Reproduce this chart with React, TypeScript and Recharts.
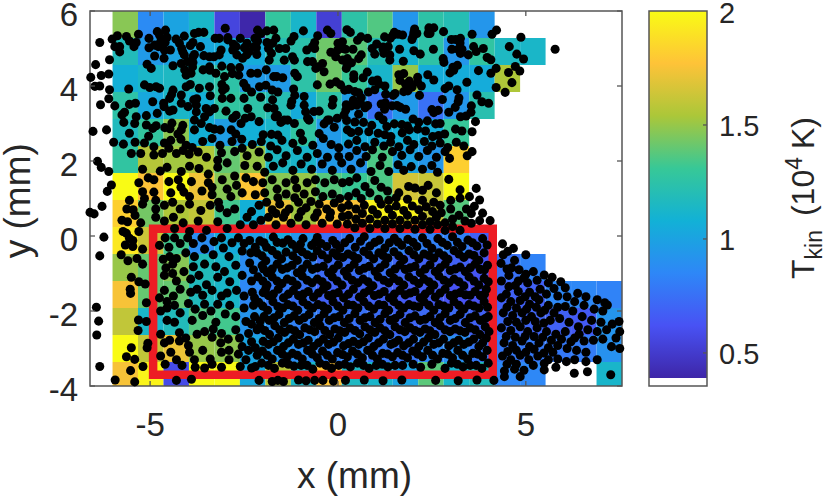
import React from 'react';
import { ScatterChart, Scatter, XAxis, YAxis, ZAxis, ReferenceArea } from 'recharts';

const FONT = '"Liberation Sans", Arial, sans-serif';
const TEXT = '#262626';
const FRAME = '#555555';

const xTicks = [-5, 0, 5];
const yTicks = [-4, -2, 0, 2, 4, 6];
const barTicks = [0.5, 1, 1.5, 2];

const colEdges = [-6, -5.322, -4.644, -3.966, -3.288, -2.61, -1.932, -1.254, -0.576, 0.102, 0.78, 1.458, 2.136, 2.814, 3.492, 4.17, 4.848, 5.526, 6.204, 6.882, 7.56];
const rowEdges = [6, 5.28, 4.56, 3.84, 3.12, 2.4, 1.68, 0.96, 0.24, -0.48, -1.2, -1.92, -2.64, -3.36, -4];

const _ = null;
const tempRows = [
  [1.47, 0.87, 1.0, 1.13, 0.55, 0.39, 1.28, 1.12, 0.52, 1.25, 1.36, 0.93, 1.25, 1.2, 0.93, _, _, _, _, _],
  [1.18, 0.95, 1.0, 1.03, 1.05, 1.05, 1.2, 1.23, 1.42, 1.38, 1.2, 1.1, 1.25, 0.93, 1.27, 1.15, 1.13, _, _, _],
  [1.07, 1.13, 1.15, 1.2, 1.25, 0.95, 0.95, 1.25, 1.42, 1.3, 1.12, 1.5, 1.05, 1.05, 1.05, 1.55, _, _, _, _],
  [1.25, 1.03, 1.13, 1.07, 1.27, 1.25, 1.2, 1.05, 1.25, 0.97, 0.75, 0.95, 0.75, 0.93, 1.22, _, _, _, _, _],
  [1.17, 1.28, 1.48, 1.07, 0.97, 1.07, 1.12, 1.27, 0.95, 1.04, 1.05, 1.07, 1.05, 1.3, _, _, _, _, _, _],
  [1.27, 1.57, 1.52, 1.55, 1.4, 1.5, 1.15, 1.12, 0.95, 0.92, 1.35, 1.0, 0.93, 1.82, _, _, _, _, _, _],
  [2.0, 1.77, 2.0, 1.73, 1.47, 1.78, 1.47, 1.5, 1.37, 1.31, 1.35, 1.65, 1.62, 2.0, _, _, _, _, _, _],
  [1.82, 1.43, 1.55, 1.6, 1.33, 1.07, 1.72, 1.52, 1.78, 1.76, 1.97, 1.97, 1.62, 1.37, _, _, _, _, _, _],
  [1.92, 1.63, 1.33, 0.88, 1.05, 0.97, 1.03, 0.93, 0.75, 0.8, 0.82, 0.82, 0.82, 0.82, 0.68, _, _, _, _, _],
  [1.5, 1.4, 1.47, 1.18, 1.13, 0.88, 0.88, 0.82, 0.72, 0.74, 0.75, 0.7, 0.68, 0.68, 0.63, 0.75, 0.83, _, _, _],
  [1.75, 1.4, 1.4, 1.17, 1.13, 0.85, 0.78, 0.75, 0.68, 0.68, 0.68, 0.65, 0.65, 0.62, 0.62, 0.68, 0.68, 0.85, 0.85, 0.83],
  [1.6, 1.13, 1.18, 1.37, 1.33, 0.92, 0.88, 0.82, 0.78, 0.75, 0.73, 0.7, 0.72, 0.72, 0.68, 0.72, 0.7, 0.68, 0.65, 0.92],
  [2.0, 1.6, 1.72, 1.5, 1.48, 1.0, 0.93, 0.88, 0.83, 0.83, 0.78, 0.77, 0.85, 0.88, 0.78, 0.78, 0.78, 0.78, 0.8, 0.9],
  [1.75, 1.97, 0.58, 2.0, 2.0, 1.03, 1.58, 1.13, 1.77, 1.15, 1.12, 1.0, 1.38, 1.12, 1.18, 0.85, 0.85, _, _, 1.12],
];

const parulaStops = ['#3e26a8', '#4852f4', '#2e87f7', '#12b1d6', '#37c897', '#abc739', '#fec338', '#f9fb15'];
const tempMin = 0.385;
const tempMax = 2;

// dots, as flat x,y lists
const dotsOuter = [
  -6.34,5.16, -6.45,4.57, -6.08,4.7, -6.58,4.23, -6.3,4.28, -6.1,4.32, -6.47,3.99, -6.34,4.0, -6.08,3.9, -6.1,3.66, -6.32,3.5, -6.52,2.79, -6.16,2.83,
  -6.4,1.99, -6.3,1.83, -6.1,1.72, -6.03,1.36, -6.14,1.19, -6.28,0.79, -6.6,0.63, -6.49,0.59, -6.23,-0.03, -6.34,-0.53, -6.43,-1.9, -6.37,-2.27, -6.42,-2.64, -6.34,-3.48, -5.93,-3.84, -5.41,-3.89,
  4.87,5.3, 5.78,4.98, 4.22,5.49, 4.1,5.38, 4.56,5.05, 4.76,4.85, 4.94,4.72, 3.97,4.76, 4.07,4.7, 3.61,5.05, 3.87,5.0, 3.68,4.92, 4.21,4.47, 4.07,4.34, 4.72,4.52, 4.84,4.4, 4.54,4.36, 4.63,4.09, 4.21,3.96, 4.45,3.83, 3.74,4.41, 3.43,4.1, 3.7,3.76, 3.83,3.58, 4.01,3.54, 3.55,3.47, 3.54,3.3, 3.41,3.2, 3.66,3.05, 3.57,2.78,
  3.68,1.27, 3.5,1.05, 3.77,0.96, 3.63,0.79, 3.85,0.61, 3.77,0.41, 4.05,0.41, 3.57,2.25, 3.44,2.14, 2.97,2.07, 2.95,1.51, 3.25,1.23, 3.25,1.01, 4.38,-0.21, 4.52,-0.41, 4.67,-0.33, 5.0,-0.5,
];
const dotsTopLeft = [
  -5.87,5.34, -6.01,5.25, -5.63,5.32, -5.81,5.05, -5.55,5.2, -5.43,5.05, -5.31,5.38, -5.37,5.16, -5.03,5.27, -5.03,5.02, -4.81,5.45, -4.75,5.36, -4.59,5.49, -4.55,5.3, -4.88,5.09, -4.78,5.05, -4.72,5.18, -4.6,5.16, -4.31,5.25, -4.09,5.33, -3.82,5.4, -3.71,5.43, -3.57,5.43, -3.86,5.16, -3.93,5.08, -3.66,5.05, -4.22,5.14, -4.16,5.0, -3.27,5.27, -3.16,5.27, -2.93,5.29, -3.0,5.54, -2.6,5.27, -2.93,5.23, -2.78,5.11, -2.71,5.05, -2.14,5.49, -2.05,5.4, -2.21,5.27, -2.14,5.2, -1.89,5.47, -1.71,5.49, -1.65,5.27, -1.17,5.32, -1.25,5.2, -0.92,5.47, -0.54,5.34, -0.28,5.49, -0.19,5.4, -0.62,5.16, -0.68,5.05, 0.0,5.14, 0.12,5.18, 0.07,5.05, -1.89,5.16, -1.74,5.14, -2.42,5.14, -2.49,5.02, -2.23,5.05,
  -5.81,4.91, -5.94,5.05, -4.88,4.8, -4.62,4.96, -4.46,4.96, -4.63,4.74, -4.13,4.91, -4.09,4.83, -3.82,4.84, -3.86,4.78, -3.57,4.81, -3.42,4.78, -3.3,4.78, -3.11,4.96, -3.16,4.83, -2.8,4.96, -2.69,4.83, -2.54,4.74, -2.43,4.83, -2.36,4.92, -2.17,5.02, -2.16,4.84, -1.85,5.0, -1.83,4.69, -1.77,4.87, -1.56,5.0, -1.39,5.0, -1.21,4.78, -1.43,4.69, -1.16,4.69, -0.83,4.96, -0.81,4.65, -0.68,4.65, -0.62,5.0, -0.19,4.9, -0.01,4.96, -0.06,4.78, 0.12,5.0, 0.12,4.69, -0.41,4.6, -0.54,4.51,
  -5.08,4.58, -4.97,4.47, -4.39,4.54, -4.17,4.6, -4.01,4.65, -3.86,4.63, -3.87,4.51, -3.59,4.43, -3.42,4.51, -3.41,4.42, -3.09,4.53, -2.85,4.49, -2.62,4.49, -4.08,4.43, -4.04,4.29, -3.91,4.34, -3.25,4.34, -3.02,4.25, -2.81,4.33, -2.64,4.29, -2.32,4.34, -2.14,4.34, -1.91,4.43, -1.71,4.25, -1.63,4.25, -1.47,4.22, -1.15,4.34, -1.08,4.25, -0.59,4.47, -0.37,4.38, -0.05,4.11, 0.07,4.03,
  -5.57,3.92, -5.15,4.03, -5.01,3.96, -4.84,3.98, -4.75,3.94, -4.04,3.98, -3.93,4.04, -3.69,3.94, -3.42,3.98, -3.09,4.04, -3.0,3.94, -2.51,4.07, -2.44,3.96, -2.3,3.84, -2.09,3.98, -1.92,4.02, -1.75,3.89, -1.6,3.84, -1.18,3.92, -0.55,4.03, -0.21,4.05, -4.39,3.89, -4.43,3.77, -4.48,3.67, -4.17,3.76, -3.4,3.74, -3.08,3.67, -3.07,3.89, -2.85,3.67, -2.5,3.67, -2.06,3.7, -1.74,3.63, -1.23,3.59, -1.15,3.75, -0.9,3.72, -0.13,3.64, -3.76,3.66, -3.84,3.63,
  -5.94,3.47, -5.68,3.3, -5.75,3.23, -5.55,3.51, -5.39,3.54, -4.93,3.58, -4.64,3.54, -4.63,3.45, -4.17,3.54, -3.99,3.45, -3.77,3.49, -3.77,3.31, -3.51,3.4, -3.42,3.31, -3.55,3.18, -3.29,3.4, -2.98,3.33, -2.71,3.22, -2.4,3.4, -2.31,3.18, -1.87,3.42, -1.7,3.4, -1.61,3.22, -1.25,3.49, -0.9,3.49, -0.86,3.31, -0.64,3.32, -0.5,3.33, -0.15,3.49, 0.21,3.36, -4.39,3.36, -4.48,3.33, -5.37,3.18, -5.1,3.21, -4.81,3.27, -3.82,3.09, -2.8,3.14, -1.43,3.09, -1.67,3.18, -0.81,3.14, -0.28,3.09, -0.02,3.14, 0.16,3.23,
  -5.7,3.03, -5.41,3.0, -5.1,2.96, -4.84,2.94, -4.93,2.87, -4.61,2.89, -4.42,3.01, -4.47,2.86, -4.13,2.95, -4.17,2.83, -4.26,2.72, -3.64,3.0, -3.42,2.89, -3.29,2.85, -3.13,2.83, -2.58,3.0, -2.47,3.14, -2.1,3.05, -1.52,3.03, -1.34,3.09, -1.16,3.0, -1.0,2.74, -0.77,3.09, -0.5,2.73, -0.37,2.99, -0.23,3.09, -0.1,2.9, 0.25,2.83, -5.55,2.74, -3.82,2.83, -2.84,2.83, -2.72,2.72, -1.99,2.7, -1.77,2.71, -1.6,2.69, -5.04,2.66,
];
const dotsTopRight = [
  0.24,5.5, 0.33,5.43, 0.61,5.31, 0.79,5.27, 0.52,5.22, 0.91,5.0, 1.03,5.12, 1.24,5.31, 1.39,5.27, 1.46,5.35, 1.5,5.43, 1.6,5.38, 1.97,5.24, 2.0,5.32, 2.04,5.52, 2.02,5.43, 2.1,5.4, 2.4,5.4, 2.45,5.4, 2.42,5.55, 2.55,5.55, 2.81,5.45, 3.02,5.24, 3.13,5.24, 3.26,5.27, 3.25,5.15, 3.57,5.38, 1.2,5.04, 1.34,5.05, 1.72,5.36,
  0.2,4.98, 0.25,4.73, 0.4,4.98, 0.62,4.83, 1.2,4.98, 0.98,4.85, 1.22,4.87, 1.38,4.83, 1.64,4.98, 1.74,4.66, 2.02,4.94, 2.19,4.85, 2.54,4.98, 3.03,4.98, 3.2,4.98, 3.3,4.98, 3.26,4.87, 3.47,4.83, 2.8,4.73, 2.82,4.63, 3.06,4.5, 3.18,4.55, 1.38,4.69, 0.55,4.73, 0.36,4.62, 0.25,4.55,
  0.22,4.47, 0.42,4.2, 0.42,4.3, 0.67,4.22, 0.78,4.37, 0.92,4.13, 1.05,4.16, 1.25,4.0, 1.09,4.05, 1.62,4.3, 1.75,4.33, 1.65,4.15, 1.87,4.05, 1.8,4.05, 1.9,4.13, 2.12,4.23, 2.12,4.1, 2.22,4.0, 2.39,4.3, 2.55,4.16, 2.95,4.0, 2.98,4.35, 3.08,4.42,
  0.18,3.89, 0.29,3.91, 0.45,3.85, 0.55,3.82, 0.62,3.69, 0.81,3.84, 0.98,3.9, 1.27,3.78, 1.47,3.75, 1.75,3.85, 1.97,3.97, 1.86,3.87, 1.52,3.8, 2.17,3.75, 2.78,3.64, 3.17,3.9, 3.22,3.68, 2.85,3.93, 0.41,3.62, 0.22,3.5, 0.5,3.49,
  0.36,3.47, 0.55,3.25, 0.72,3.42, 0.79,3.48, 0.6,3.55, 1.15,3.52, 1.26,3.55, 1.44,3.47, 1.57,3.48, 1.66,3.43, 1.8,3.38, 2.67,3.35, 2.55,3.29, 2.5,3.37, 3.12,3.43, 3.2,3.58, 2.95,3.3, 1.24,3.38, 1.09,3.2, 1.2,3.1, 2.0,3.12, 2.15,3.03, 2.38,3.07, 2.6,2.99, 2.72,3.0, 3.26,3.18,
  0.23,3.08, 0.45,3.04, 0.68,3.03, 0.9,2.95, 1.3,2.92, 1.5,2.99, 1.7,2.97, 1.85,2.93, 0.55,2.79, 0.35,2.76, 0.82,2.78, 1.07,2.74, 1.25,2.7, 1.41,2.65, 1.71,2.75, 1.9,2.83, 2.12,2.85, 2.33,2.8, 2.52,2.65, 2.68,2.68, 2.84,2.72, 3.13,2.85, 3.3,2.8,
];
const dotsMidLeft = [
  -5.97,2.5, -5.71,2.45, -5.4,2.5, -5.15,2.48, -4.9,2.38, -4.62,2.48, -4.45,2.55, -4.18,2.58, -4.04,2.42, -3.88,2.36, -3.6,2.52, -3.35,2.6, -3.14,2.42, -2.82,2.52, -2.56,2.58, -2.28,2.44, -2.04,2.52, -1.79,2.4, -1.49,2.55, -1.2,2.47, -0.94,2.55, -0.67,2.42, -0.39,2.6, -0.18,2.44,
  -5.5,2.2, -5.25,2.2, -4.9,2.16, -4.67,2.2, -4.5,2.34, -4.3,2.2, -4.12,2.28, -3.96,2.18, -3.72,2.24, -3.5,2.1, -3.2,2.02, -3.1,2.22, -2.75,2.25, -2.55,2.34, -2.42,2.14, -2.1,2.24, -1.85,2.1, -1.62,2.3, -1.38,2.14, -1.08,2.28, -0.82,2.1, -0.55,2.2, -0.28,2.1, 0.02,2.35, 0.02,2.12,
  -5.2,1.78, -4.73,1.73, -4.55,1.83, -4.17,1.72, -3.95,1.86, -3.7,1.8, -3.45,1.65, -3.2,1.83, -2.95,1.95, -2.75,1.6, -2.48,1.88, -2.15,1.86, -1.95,1.7, -1.72,1.86, -1.47,1.95, -1.2,1.75, -0.98,1.92, -0.7,1.78, -0.42,1.92, -0.15,1.75, 0.1,1.95,
  -5.3,1.42, -5.05,1.55, -4.9,1.5, -4.5,1.45, -4.25,1.5, -4.18,1.3, -3.9,1.45, -3.62,1.2, -3.45,1.42, -3.35,1.3, -3.08,1.5, -2.95,1.25, -2.7,1.35, -2.45,1.55, -2.25,1.45, -2.0,1.42, -1.75,1.5, -1.62,1.25, -1.38,1.42, -1.15,1.5, -1.1,1.28, -0.82,1.42, -0.6,1.5, -0.35,1.42, -0.1,1.5, 0.12,1.42,
  -5.2,1.18, -5.15,1.0, -4.9,1.17, -4.45,1.15, -4.1,1.17, -3.95,1.05, -3.35,1.1, -3.18,0.9, -2.85,1.05, -2.55,1.15, -2.2,1.1, -1.95,1.15, -1.6,1.02, -1.38,1.12, -1.15,1.02, -0.9,1.12, -0.6,1.18, -0.4,1.05, -0.15,1.12, 0.05,1.0,
  -5.55,0.95, -5.62,0.72, -5.45,0.7, -5.2,0.85, -4.85,0.95, -4.85,0.72, -4.62,0.82, -4.4,0.9, -4.2,0.72, -3.95,0.85, -3.65,0.68, -3.4,0.82, -3.15,0.75, -2.95,0.62, -2.75,0.72, -2.42,0.5, -2.3,0.65, -2.1,0.82, -1.9,0.9, -1.75,0.7, -1.55,0.85, -1.3,0.72, -1.05,0.9, -0.85,0.75, -0.72,0.92, -0.5,0.85, -0.3,0.72, -0.1,0.88, 0.1,0.75,
  -5.72,0.12, -5.63,0.07, -5.55,-0.06, -5.66,-0.24, -5.46,-0.12, -5.46,-0.28, -5.77,-0.5, -5.75,0.42, -5.6,0.38, -5.4,0.55, -5.25,0.35, -5.3,0.12, -4.85,0.5, -4.62,0.4, -4.38,0.5, -4.12,0.35, -4.35,0.2, -3.95,0.12, -3.72,0.4, -3.5,0.15, -3.2,0.38, -2.95,0.2, -2.6,0.3, -2.25,0.3, -2.05,0.42, -1.85,0.5, -1.65,0.3, -1.45,0.5, -1.25,0.34, -1.05,0.5, -0.85,0.3, -0.62,0.5, -0.42,0.34, -0.22,0.5, -0.02,0.32, 0.12,0.52, -1.65,0.6, -1.4,0.62, -0.98,0.65, -0.55,0.62, -0.2,0.62,
];
const dotsMidRight = [
  0.28,2.45, 0.5,2.55, 0.72,2.38, 0.98,2.5, 1.22,2.4, 1.4,2.5, 1.62,2.38, 1.85,2.55, 2.02,2.44, 2.3,2.52, 2.5,2.4, 2.72,2.48, 2.92,2.36, 3.15,2.5, 3.35,2.4,
  0.3,2.12, 0.5,2.28, 0.75,2.12, 0.92,2.3, 1.18,2.1, 1.45,2.25, 1.7,2.15, 1.92,2.3, 2.15,2.12, 2.38,2.28, 2.62,2.1, 2.85,2.25,
  0.35,1.78, 0.6,1.95, 0.88,1.72, 1.12,1.88, 1.35,1.72, 1.6,1.9, 1.75,1.75, 1.95,1.85, 2.25,1.78, 2.5,1.88, 2.65,1.7,
  0.3,1.45, 0.5,1.55, 0.72,1.32, 0.98,1.48, 1.15,1.3, 1.32,1.2, 1.62,1.15, 1.88,1.32, 2.05,1.28, 2.25,1.22, 2.4,1.35, 2.62,1.15,
  0.28,1.05, 0.48,1.15, 0.62,1.0, 0.85,1.15, 1.08,0.98, 1.35,0.95, 1.55,1.02, 1.85,0.98, 1.98,0.8, 2.25,0.95, 2.55,0.9, 2.72,0.82, 3.0,0.95, 3.55,0.6, 3.42,0.72,
  0.28,0.82, 0.48,0.72, 0.7,0.82, 0.92,0.7, 1.15,0.85, 1.35,0.72, 1.55,0.8, 1.75,0.68, 2.15,0.7, 2.35,0.78, 2.52,0.65, 2.75,0.62, 3.0,0.72, 3.22,0.55, 3.38,0.4, 3.55,0.34,
  0.28,0.55, 0.48,0.45, 0.65,0.6, 0.85,0.45, 1.05,0.58, 1.25,0.42, 1.45,0.55, 1.65,0.42, 1.85,0.55, 2.05,0.42, 2.25,0.52, 2.45,0.38, 2.62,0.5, 2.85,0.35, 3.05,0.45,
  0.25,0.32, 0.45,0.22, 0.65,0.34, 0.85,0.2, 1.05,0.32, 1.25,0.2, 1.45,0.32, 1.65,0.2, 1.85,0.3, 2.05,0.18, 2.25,0.3, 2.45,0.18, 2.65,0.3, 2.85,0.15, 3.05,0.25, 3.25,0.15,
];
const dotsLowLeft = [
  -5.5,-1.1, -5.53,-1.42, -5.52,-1.53, -5.3,-1.22, -5.13,-1.28, -5.1,-1.78, -5.31,-2.24, -5.1,-2.28, -5.32,-2.52, -5.5,-2.98, -5.63,-3.22, -5.41,-3.29, -5.52,-3.59, -5.19,-3.48, -5.06,-2.86, -5.08,-2.98, -5.59,-0.66, -5.2,-0.35, -5.35,-0.6, -5.2,-0.75,
  -4.6,-0.05, -4.75,-0.25, -4.35,-0.05, -4.5,-0.3, -4.2,-0.2, -4.0,-0.05, -4.65,-0.62, -4.48,-0.55, -4.3,-0.6, -4.58,-0.85, -4.4,-0.75, -4.05,-0.45, -3.85,-0.2, -3.82,-0.55, -3.62,-0.05, -3.55,-0.35, -3.3,-0.15, -3.32,-0.5, -3.1,-0.05, -3.05,-0.32, -2.9,-0.55, -2.82,-0.18, -2.65,-0.05, -2.55,-0.4, -2.35,-0.12, -2.32,-0.45,
  -4.62,-1.05, -4.4,-1.0, -4.3,-1.2, -4.62,-1.45, -4.75,-1.65, -4.55,-1.75, -4.38,-1.6, -4.2,-1.42, -4.1,-0.95, -3.92,-1.15, -3.85,-0.82, -3.7,-1.05, -3.55,-0.75, -3.5,-1.3, -3.25,-0.82, -3.2,-1.1, -3.02,-0.95, -2.88,-1.22, -2.72,-0.78, -2.55,-1.05, -2.35,-0.72, -2.3,-1.2, -3.92,-1.5, -3.75,-1.42, -3.6,-1.58, -3.35,-1.45, -3.1,-1.6, -2.95,-1.52, -2.7,-1.45, -2.5,-1.6, -2.28,-1.5,
  -4.72,-2.0, -4.55,-1.92, -4.35,-1.85, -4.2,-2.05, -4.35,-2.3, -4.55,-2.25, -3.98,-1.8, -3.8,-1.95, -3.88,-2.25, -3.6,-2.12, -3.55,-1.82, -3.38,-2.0, -3.2,-1.82, -3.25,-2.3, -3.0,-2.08, -2.88,-1.85, -2.72,-2.15, -2.5,-1.92, -2.45,-2.28, -2.25,-1.85, -2.22,-2.15,
  -4.72,-2.62, -4.62,-2.85, -4.48,-2.78, -4.22,-2.8, -4.22,-2.58, -4.05,-2.72, -3.98,-2.92, -3.75,-2.62, -3.55,-2.55, -3.35,-2.7, -3.32,-2.48, -3.1,-2.6, -3.12,-2.85, -2.92,-2.75, -2.72,-2.5, -2.62,-2.72, -2.55,-2.95, -2.38,-2.6, -2.3,-2.82, -2.15,-2.5,
  -4.72,-3.2, -4.45,-3.1, -4.3,-3.3, -4.6,-3.42, -3.95,-3.1, -3.82,-3.3, -3.6,-3.05, -3.4,-3.28, -3.35,-3.42, -3.1,-3.1, -2.9,-3.3, -2.9,-3.05, -2.65,-3.15, -2.45,-3.3, -2.38,-3.05, -2.15,-3.18, -4.15,-3.45, -3.8,-3.5, -3.55,-3.52, -3.1,-3.5, -2.6,-3.48, -2.3,-3.52,
  -4.3,-3.85, -3.9,-3.82, -2.1,-3.85, -1.75,-3.88, -1.6,-3.85, -1.45,-3.88, -1.05,-3.84, -0.85,-3.86, -0.62,-3.85, -0.4,-3.85, -0.12,-3.87, 0.2,-3.85, 0.7,-3.84, 1.2,-3.86, 1.7,-3.84, 2.6,-3.85, 3.2,-3.86, 3.7,-3.84, 4.15,-3.85,
];
const dotsCore = [
  -2.08,-0.13, -1.9,-0.3, -1.72,-0.03, -1.47,-0.19, -1.33,-0.1, -1.1,-0.34, -0.93,-0.07, -0.7,-0.25, -0.55,-0.04, -0.3,-0.28, -0.14,-0.12, 0.05,-0.33, 0.31,-0.07, 0.46,-0.3, 0.7,-0.02, 0.85,-0.27, 1.1,-0.11, 1.25,-0.32, 1.5,-0.06, 1.7,-0.25, 1.86,-0.09, 2.1,-0.28, 2.25,-0.05, 2.5,-0.33, 2.66,-0.07, 2.91,-0.25, 3.05,-0.02, 3.3,-0.28, 3.46,-0.11, 3.7,-0.27, 3.85,-0.07,
  -2.15,-0.45, -1.92,-0.66, -1.75,-0.39, -1.5,-0.61, -1.38,-0.43, -1.08,-0.65, -0.95,-0.42, -0.67,-0.56, -0.55,-0.39, -0.27,-0.61, -0.13,-0.45, 0.13,-0.57, 0.27,-0.48, 0.53,-0.6, 0.69,-0.41, 0.95,-0.61, 1.09,-0.45, 1.33,-0.59, 1.49,-0.42, 1.75,-0.63, 1.89,-0.39, 2.15,-0.61, 2.29,-0.48, 2.55,-0.59, 2.69,-0.45, 2.93,-0.62, 3.09,-0.39, 3.35,-0.57, 3.49,-0.48, 3.75,-0.65, 3.89,-0.45,
  -2.02,-0.79, -1.88,-0.98, -1.62,-0.75, -1.48,-0.89, -1.22,-0.78, -1.08,-0.98, -0.82,-0.75, -0.68,-0.89, -0.39,-0.81, -0.25,-0.98, 0.01,-0.77, 0.17,-0.95, 0.43,-0.75, 0.57,-0.92, 0.83,-0.81, 0.99,-0.95, 1.25,-0.75, 1.39,-0.98, 1.65,-0.77, 1.79,-0.89, 2.05,-0.81, 2.19,-0.98, 2.45,-0.77, 2.59,-0.95, 2.85,-0.75, 2.99,-0.92, 3.25,-0.83, 3.39,-0.95, 3.65,-0.75, 3.79,-0.89, 3.98,-0.78,
  -2.13,-1.09, -1.89,-1.31, -1.75,-1.09, -1.49,-1.27, -1.35,-1.15, -1.09,-1.31, -0.95,-1.07, -0.69,-1.25, -0.55,-1.15, -0.29,-1.33, -0.15,-1.09, 0.11,-1.31, 0.25,-1.07, 0.53,-1.25, 0.67,-1.15, 0.93,-1.33, 1.07,-1.09, 1.35,-1.25, 1.49,-1.13, 1.75,-1.31, 1.89,-1.09, 2.15,-1.27, 2.29,-1.15, 2.55,-1.31, 2.69,-1.07, 2.95,-1.25, 3.09,-1.15, 3.35,-1.33, 3.49,-1.09, 3.75,-1.31, 3.89,-1.13,
  -1.99,-1.51, -1.85,-1.59, -1.59,-1.42, -1.45,-1.65, -1.19,-1.45, -1.05,-1.59, -0.79,-1.48, -0.65,-1.63, -0.39,-1.42, -0.25,-1.59, 0.01,-1.51, 0.15,-1.65, 0.41,-1.42, 0.57,-1.63, 0.83,-1.45, 0.97,-1.59, 1.23,-1.48, 1.37,-1.65, 1.65,-1.45, 1.79,-1.57, 2.05,-1.48, 2.19,-1.65, 2.45,-1.45, 2.59,-1.63, 2.85,-1.42, 2.99,-1.59, 3.25,-1.51, 3.39,-1.57, 3.65,-1.48, 3.79,-1.59, 3.95,-1.42,
  -2.11,-1.77, -1.87,-1.98, -1.73,-1.75, -1.47,-1.92, -1.33,-1.83, -1.07,-1.98, -0.93,-1.75, -0.67,-1.92, -0.53,-1.83, -0.27,-1.95, -0.13,-1.75, 0.13,-1.98, 0.27,-1.83, 0.53,-1.92, 0.69,-1.75, 0.95,-1.95, 1.09,-1.83, 1.35,-1.98, 1.49,-1.75, 1.75,-1.92, 1.89,-1.83, 2.15,-1.89, 2.29,-1.75, 2.55,-1.98, 2.69,-1.83, 2.95,-1.92, 3.09,-1.75, 3.35,-1.95, 3.49,-1.83, 3.75,-1.92, 3.89,-1.75,
  -1.97,-2.15, -1.83,-2.25, -1.57,-2.09, -1.43,-2.31, -1.17,-2.13, -1.03,-2.25, -0.77,-2.09, -0.63,-2.31, -0.37,-2.07, -0.23,-2.25, 0.03,-2.15, 0.17,-2.31, 0.45,-2.07, 0.59,-2.25, 0.85,-2.15, 0.99,-2.31, 1.25,-2.07, 1.39,-2.25, 1.65,-2.09, 1.79,-2.31, 2.05,-2.13, 2.19,-2.25, 2.45,-2.15, 2.59,-2.31, 2.85,-2.07, 2.99,-2.25, 3.25,-2.09, 3.39,-2.31, 3.65,-2.13, 3.79,-2.25, 4.0,-2.15,
  -2.08,-2.42, -1.82,-2.63, -1.68,-2.39, -1.42,-2.57, -1.28,-2.48, -1.02,-2.63, -0.88,-2.45, -0.62,-2.55, -0.48,-2.39, -0.22,-2.63, -0.08,-2.48, 0.18,-2.57, 0.32,-2.45, 0.58,-2.61, 0.72,-2.42, 0.98,-2.57, 1.12,-2.45, 1.38,-2.63, 1.52,-2.42, 1.78,-2.55, 1.92,-2.45, 2.18,-2.57, 2.32,-2.48, 2.58,-2.63, 2.72,-2.39, 2.98,-2.55, 3.12,-2.48, 3.38,-2.57, 3.52,-2.45, 3.78,-2.63, 3.92,-2.42,
  -1.99,-2.81, -1.85,-2.89, -1.59,-2.72, -1.45,-2.95, -1.19,-2.75, -1.05,-2.89, -0.79,-2.78, -0.65,-2.95, -0.39,-2.75, -0.25,-2.89, 0.01,-2.72, 0.15,-2.93, 0.41,-2.81, 0.55,-2.89, 0.81,-2.72, 0.95,-2.95, 1.21,-2.75, 1.41,-2.89, 1.61,-2.78, 1.75,-2.93, 2.01,-2.75, 2.15,-2.95, 2.41,-2.72, 2.55,-2.89, 2.81,-2.75, 2.95,-2.93, 3.21,-2.78, 3.35,-2.89, 3.61,-2.75, 3.75,-2.95, 3.95,-2.72,
  -2.01,-3.07, -1.75,-3.28, -1.61,-3.05, -1.35,-3.22, -1.21,-3.13, -0.95,-3.28, -0.81,-3.05, -0.55,-3.25, -0.41,-3.07, -0.15,-3.28, -0.01,-3.11, 0.25,-3.22, 0.39,-3.07, 0.65,-3.25, 0.79,-3.05, 1.05,-3.28, 1.19,-3.13, 1.45,-3.22, 1.59,-3.11, 1.85,-3.25, 1.99,-3.07, 2.25,-3.22, 2.39,-3.05, 2.65,-3.28, 2.79,-3.13, 3.05,-3.25, 3.19,-3.05, 3.45,-3.28, 3.59,-3.13, 3.85,-3.22, 3.97,-3.05,
  -2.03,-3.39, -1.69,-3.53, -1.48,-3.39, -1.17,-3.47, -0.98,-3.45, -0.67,-3.55, -0.48,-3.39, -0.17,-3.53, 0.02,-3.45, 0.33,-3.49, 0.52,-3.39, 0.83,-3.53, 1.02,-3.45, 1.33,-3.49, 1.52,-3.45, 2.85,-3.53, 3.02,-3.39, 3.33,-3.49, 3.52,-3.45, 3.83,-3.53, 4.0,-3.39,
];
const dotsCoreFill = [
  -2.5,-0.2, -2.2,-0.3, -1.97,-0.18, -1.62,-0.17, -1.22,-0.22, -1.0,-0.22, -0.6,-0.16, -0.45,-0.2, -0.05,-0.22, 0.18,-0.18, 0.6,-0.14, 0.98,-0.17, 1.37,-0.18, 1.6,-0.16, 2.0,-0.17, 2.37,-0.2, 2.78,-0.17, 3.18,-0.17, 3.58,-0.18, 3.97,-0.24,
  -2.02,-0.53, -1.62,-0.5, -1.2,-0.53, -0.82,-0.5, -0.42,-0.5, -0.02,-0.53, 0.4,-0.53, 0.82,-0.5, 1.2,-0.52, 1.62,-0.53, 2.02,-0.5, 2.42,-0.52, 2.82,-0.53, 3.22,-0.48, 3.62,-0.52,
  -2.25,-0.9, -1.98,-0.88, -1.75,-0.88, -1.35,-0.85, -0.95,-0.88, -0.55,-0.85, -0.12,-0.88, 0.3,-0.86, 0.7,-0.86, 1.12,-0.85, 1.52,-0.88, 1.92,-0.85, 2.32,-0.88, 2.72,-0.85, 3.12,-0.88, 3.52,-0.85, 3.9,-0.9,
  -2.0,-1.2, -1.62,-1.2, -1.22,-1.2, -0.82,-1.18, -0.42,-1.22, -0.02,-1.2, 0.38,-1.18, 0.8,-1.22, 1.22,-1.18, 1.62,-1.2, 2.02,-1.18, 2.42,-1.22, 2.82,-1.18, 3.22,-1.22, 3.62,-1.2, 4.0,-1.22,
  -2.22,-1.65, -1.92,-1.4, -1.72,-1.55, -1.32,-1.55, -0.92,-1.55, -0.52,-1.52, -0.12,-1.55, 0.28,-1.55, 0.7,-1.52, 1.1,-1.55, 1.5,-1.55, 1.92,-1.52, 2.32,-1.55, 2.72,-1.52, 3.12,-1.55, 3.52,-1.58, 3.9,-1.55,
  -2.0,-1.87, -1.6,-1.88, -1.2,-1.87, -0.8,-1.85, -0.4,-1.87, 0.0,-1.87, 0.4,-1.85, 0.82,-1.87, 1.22,-1.85, 1.62,-1.85, 2.02,-1.87, 2.42,-1.85, 2.82,-1.87, 3.22,-1.85, 3.62,-1.87, 3.98,-1.9,
  -2.3,-2.35, -2.07,-2.27, -1.7,-2.18, -1.3,-2.2, -0.9,-2.18, -0.5,-2.2, -0.1,-2.18, 0.3,-2.2, 0.72,-2.18, 1.12,-2.22, 1.52,-2.2, 1.92,-2.18, 2.32,-2.22, 2.72,-2.18, 3.12,-2.2, 3.52,-2.18, 3.92,-2.2,
  -1.95,-2.52, -1.55,-2.5, -1.15,-2.53, -0.75,-2.5, -0.35,-2.52, 0.05,-2.53, 0.45,-2.52, 0.85,-2.5, 1.25,-2.53, 1.65,-2.5, 2.05,-2.52, 2.45,-2.53, 2.85,-2.5, 3.25,-2.53, 3.65,-2.5, 4.02,-2.55,
  -2.2,-2.98, -1.72,-2.82, -1.32,-2.85, -0.92,-2.85, -0.52,-2.85, -0.12,-2.83, 0.28,-2.87, 0.68,-2.82, 1.08,-2.85, 1.5,-2.85, 1.88,-2.85, 2.28,-2.83, 2.68,-2.85, 3.08,-2.85, 3.48,-2.83, 3.85,-2.85,
  -1.88,-3.18, -1.48,-3.15, -1.08,-3.18, -0.68,-3.15, -0.28,-3.18, 0.12,-3.16, 0.52,-3.15, 0.92,-3.18, 1.32,-3.15, 1.72,-3.18, 2.12,-3.15, 2.52,-3.18, 2.92,-3.15, 3.32,-3.18, 3.72,-3.15,
  -2.2,-3.48, -1.85,-3.45, -1.32,-3.42, -0.82,-3.45, -0.32,-3.45, 0.18,-3.42, 0.68,-3.45, 1.18,-3.42, 3.18,-3.42, 3.68,-3.45, 2.0,-3.42, 2.2,-3.5, 2.5,-3.42, 1.72,-3.45,
];
const dotsTail = [
  4.34,-0.73, 4.62,-0.85, 4.82,-0.9, 5.0,-1.02, 5.2,-0.95, 5.49,-1.04, 5.7,-1.1, 5.93,-1.22, 5.6,-1.25, 5.75,-1.4, 6.05,-1.38, 6.38,-1.53, 6.6,-1.62, 6.9,-1.7, 7.1,-1.78, 7.17,-1.84, 7.48,-2.28,
  4.4,-0.5, 4.7,-0.65, 4.55,-1.05, 4.8,-1.2, 5.05,-1.25, 5.3,-1.18, 4.35,-1.2, 4.55,-1.35, 4.8,-1.48, 5.1,-1.5, 5.38,-1.42, 5.55,-1.55, 5.85,-1.6, 6.1,-1.62, 6.3,-1.75, 6.55,-1.85, 6.82,-1.95, 7.05,-2.0,
  4.35,-1.65, 4.6,-1.75, 4.85,-1.72, 5.1,-1.82, 5.35,-1.7, 5.6,-1.85, 5.85,-1.9, 6.05,-1.88, 6.25,-2.0, 6.5,-2.15, 6.75,-2.25, 7.0,-2.3, 7.3,-2.35, 7.5,-2.55,
  4.4,-2.05, 4.65,-2.12, 4.9,-2.05, 5.15,-2.15, 5.4,-2.05, 5.65,-2.25, 5.9,-2.2, 6.15,-2.3, 6.4,-2.42, 6.65,-2.5, 6.9,-2.55, 7.15,-2.5, 7.4,-2.72,
  4.35,-2.45, 4.6,-2.52, 4.85,-2.42, 5.05,-2.55, 5.3,-2.45, 5.55,-2.55, 5.8,-2.62, 6.05,-2.55, 6.3,-2.72, 6.55,-2.8, 6.8,-2.78, 7.05,-2.75, 7.28,-2.95, 7.5,-3.0,
  4.42,-2.85, 4.65,-2.92, 4.9,-2.8, 5.1,-2.95, 5.35,-2.85, 5.6,-2.98, 5.85,-2.92, 6.1,-3.0, 6.35,-3.05, 6.6,-3.1, 6.9,-3.3, 7.26,-3.7,
  4.38,-3.2, 4.6,-3.3, 4.85,-3.18, 5.08,-3.3, 5.32,-3.2, 5.49,-3.4, 5.6,-3.3, 5.85,-3.28, 6.08,-3.35, 6.3,-3.3, 6.6,-3.35,
  4.43,-3.6, 4.7,-3.55, 4.95,-3.58, 5.2,-3.45, 5.49,-3.57, 5.8,-3.5, 6.29,-3.66, 6.64,-3.62, 4.43,-3.75, 4.85,-3.75,
  4.5,-0.88, 4.95,-1.12, 4.48,-1.55, 4.72,-1.32, 4.98,-1.62, 5.25,-1.62, 4.5,-1.9, 4.75,-1.92, 5.02,-1.95, 5.28,-1.9, 5.5,-1.98, 5.75,-2.05, 4.52,-2.28, 4.75,-2.3, 5.0,-2.25, 5.25,-2.28, 5.48,-2.32, 4.48,-2.68, 4.72,-2.7, 4.98,-2.68, 5.22,-2.68, 5.45,-2.7, 5.68,-2.78, 5.95,-2.75, 6.2,-2.82, 6.42,-2.62, 4.52,-3.08, 4.75,-3.05, 5.0,-3.1, 5.22,-3.02, 5.48,-3.12, 5.72,-3.1, 4.5,-3.42, 4.75,-3.42,
];

const toPairs = (flat: number[]) => {
  const out: { x: number; y: number }[] = [];
  for (let i = 0; i < flat.length; i += 2) out.push({ x: flat[i], y: flat[i + 1] });
  return out;
};

const hexToRgb = (h: string) => [1, 3, 5].map(i => parseInt(h.slice(i, i + 2), 16));

const tempColor = (t: number) => {
  const pos = Math.min(1, Math.max(0, (t - tempMin) / (tempMax - tempMin))) * (parulaStops.length - 1);
  const i = Math.min(parulaStops.length - 2, Math.floor(pos));
  const a = hexToRgb(parulaStops[i]);
  const b = hexToRgb(parulaStops[i + 1]);
  const f = pos - i;
  return `rgb(${a.map((v, k) => Math.round(v + (b[k] - v) * f)).join(',')})`;
};

const PLOT_TOP = 11;
const PLOT_BOTTOM = 386;
const PLOT_LEFT = 90;
const PLOT_RIGHT = 622;

const XTick = ({ x, payload }: any) => (
  <g>
    <line x1={x} x2={x} y1={PLOT_BOTTOM} y2={PLOT_BOTTOM - 5} stroke={FRAME} strokeWidth={1.3} />
    <line x1={x} x2={x} y1={PLOT_TOP} y2={PLOT_TOP + 5} stroke={FRAME} strokeWidth={1.3} />
    <text x={x} y={PLOT_BOTTOM + 50} textAnchor="middle" fontFamily={FONT} fontSize={33} fill={TEXT}>{payload.value}</text>
  </g>
);

const YTick = ({ y, payload }: any) => (
  <g>
    <line x1={PLOT_LEFT} x2={PLOT_LEFT + 5} y1={y} y2={y} stroke={FRAME} strokeWidth={1.3} />
    <line x1={PLOT_RIGHT} x2={PLOT_RIGHT - 5} y1={y} y2={y} stroke={FRAME} strokeWidth={1.3} />
    <text x={78} y={y + 14.5} textAnchor="end" fontFamily={FONT} fontSize={33} fill={TEXT}>{payload.value}</text>
  </g>
);

const BarTick = ({ y, payload }: any) => (
  <g>
    {payload.value !== 2 && <line x1={707} x2={703} y1={y} y2={y} stroke={FRAME} strokeWidth={1.3} />}
    <text x={719} y={y + 11.5} textAnchor="start" fontFamily={FONT} fontSize={29} fill={TEXT}>{payload.value}</text>
  </g>
);

const BarLabel = () => (
  <text transform="rotate(-90 814 279)" x={814} y={279} fontFamily={FONT} fontSize={32} fill={TEXT}>
    <tspan>T</tspan>
    <tspan fontSize={23} dy={8}>kin</tspan>
    <tspan dy={-8} dx={14}>(10</tspan>
    <tspan fontSize={23} dy={-12}>4</tspan>
    <tspan dy={12} dx={8}>K)</tspan>
  </text>
);

const dots = toPairs([...dotsOuter, ...dotsTopLeft, ...dotsTopRight, ...dotsMidLeft, ...dotsMidRight, ...dotsLowLeft, ...dotsCore, ...dotsCoreFill, ...dotsTail]);
const barAnchors = barTicks.map(v => ({ x: 0.5, y: v }));

export default function App() {
  return (
    <div style={{ position: 'absolute', left: 0, top: 0, width: 830, height: 497, background: '#fff', overflow: 'hidden' }}>
      <div style={{ position: 'absolute', left: 0, top: 0 }}>
        <ScatterChart width={830} height={497} margin={{ top: PLOT_TOP, left: PLOT_LEFT - 1, right: 830 - PLOT_RIGHT, bottom: 497 - PLOT_BOTTOM - 1 }}>
          <XAxis
            type="number"
            dataKey="x"
            domain={[-6.6, 7.56]}
            ticks={xTicks}
            interval={0}
            height={1}
            axisLine={false}
            tickLine={false}
            tick={<XTick />}
          />
          <YAxis
            type="number"
            dataKey="y"
            domain={[-4, 6]}
            ticks={yTicks}
            interval={0}
            width={1}
            axisLine={false}
            tickLine={false}
            tick={<YTick />}
          />
          <ZAxis range={[28, 28]} />
          {tempRows.map((row, r) =>
            row.map((t, c) =>
              t === null ? null : (
                <ReferenceArea
                  key={`${r}-${c}`}
                  x1={colEdges[c]}
                  x2={colEdges[c + 1]}
                  y1={rowEdges[r + 1]}
                  y2={rowEdges[r]}
                  fill={tempColor(t)}
                  fillOpacity={1}
                  stroke="none"
                />
              ),
            ),
          )}
          <Scatter data={dots} fill="#000" isAnimationActive={false} />
          <ReferenceArea x1={-4.92} x2={4.12} y1={-3.7} y2={0.195} fill="none" stroke="#ed1c24" strokeWidth={8.5} />
          <ReferenceArea x1={-6.6} x2={7.56} y1={-4} y2={6} fill="none" stroke={FRAME} strokeWidth={1.5} />
          <text x={354.5} y={488} textAnchor="middle" fontFamily={FONT} fontSize={37} fill={TEXT}>x (mm)</text>
          <text transform="rotate(-90 30 200.7)" x={30} y={200.7} textAnchor="middle" fontFamily={FONT} fontSize={37} fill={TEXT}>y (mm)</text>
        </ScatterChart>
      </div>
      <div style={{ position: 'absolute', left: 0, top: 0 }}>
        <ScatterChart width={830} height={497} margin={{ top: PLOT_TOP, left: 649, right: 830 - 707 - 1, bottom: 497 - PLOT_BOTTOM }}>
          <defs>
            <linearGradient id="parulaBar" x1="0" y1="1" x2="0" y2="0">
              {parulaStops.map((c, i) => (
                <stop key={c} offset={i / (parulaStops.length - 1)} stopColor={c} />
              ))}
            </linearGradient>
          </defs>
          <XAxis type="number" dataKey="x" domain={[0, 1]} hide />
          <YAxis
            type="number"
            dataKey="y"
            orientation="right"
            domain={[0.355, 2]}
            ticks={barTicks}
            interval={0}
            width={1}
            axisLine={false}
            tickLine={false}
            tick={<BarTick />}
          />
          <ReferenceArea x1={0} x2={1} y1={0.39} y2={2} fill="url(#parulaBar)" fillOpacity={1} stroke="none" />
          <ReferenceArea x1={0} x2={1} y1={0.355} y2={2} fill="none" stroke={FRAME} strokeWidth={1.5} />
          <Scatter data={barAnchors} fill="none" isAnimationActive={false} />
          <BarLabel />
        </ScatterChart>
      </div>
    </div>
  );
}
